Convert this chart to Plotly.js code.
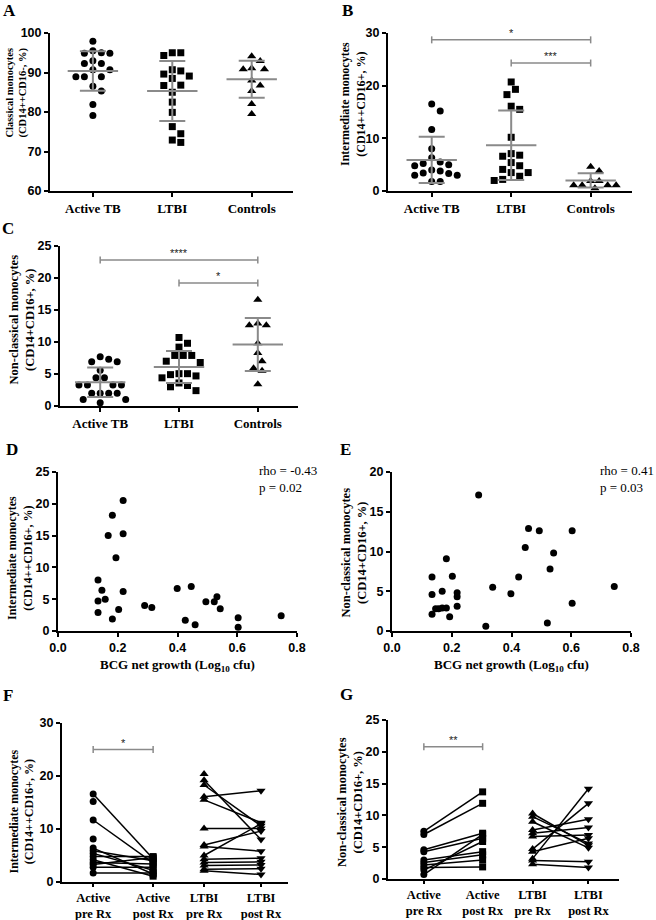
<!DOCTYPE html>
<html><head><meta charset="utf-8">
<script src="https://cdn.plot.ly/plotly-3.0.1.min.js"></script>
<style>html,body{margin:0;padding:0;background:#fff;}#chart{width:656px;height:920px;}</style>
</head><body><div id="chart"></div>
<script>
// ================= DATA =================
const groupLabels = ['Active TB', 'LTBI', 'Controls'];
const rxLabels = ['Active<br>pre Rx', 'Active<br>post Rx', 'LTBI<br>pre Rx', 'LTBI<br>post Rx'];

// Panel A: classical monocytes (CD14++CD16-, %)
const aActive   = [97.9, 95.5, 94.9, 94.9, 95.0, 93.0, 92.3, 92.3, 90.7, 90.7, 88.9, 88.9, 88.9, 86.5, 85.3, 81.9, 79.1];
const aLTBI     = [95.0, 94.3, 95.0, 90.4, 90.7, 89.1, 88.5, 89.6, 86.8, 86.7, 85.0, 82.5, 79.9, 76.3, 74.5, 72.9, 72.3];
const aControls = [94.1, 92.9, 91.1, 90.8, 90.8, 88.0, 86.7, 85.3, 82.0, 79.5];
const aMean = [90.4, 85.3, 88.3];
const aSD   = [5.0, 7.6, 4.7];

// Panel B: intermediate monocytes (CD14++CD16+, %)
const bActive   = [16.5, 15.2, 11.7, 8.0, 6.3, 4.8, 5.5, 5.2, 5.0, 3.3, 3.8, 3.0, 3.4, 4.0, 3.0, 1.8, 1.8];
const bLTBI     = [20.7, 19.3, 18.3, 15.5, 16.1, 10.2, 7.1, 6.8, 6.6, 4.8, 5.4, 4.1, 3.5, 3.5, 2.8, 2.0, 2.2];
const bControls = [4.6, 3.8, 1.9, 1.1, 1.1, 1.1, 1.1, 1.9, 0.5];
const bMean = [5.9, 8.7, 2.0];
const bSD   = [4.4, 6.6, 1.35];
const bSigFrom = [0, 1], bSigTo = [2, 2], bSigY = [28.7, 24.3], bSigText = ['*', '***'];

// Panel C: non-classical monocytes (CD14+CD16+, %)
const cActive   = [7.7, 6.9, 6.9, 7.3, 5.6, 4.4, 4.4, 3.3, 3.3, 3.3, 3.3, 2.0, 2.0, 2.0, 2.0, 1.0, 1.0, 0.5];
const cLTBI     = [10.7, 9.8, 9.2, 7.9, 7.9, 7.9, 6.8, 7.0, 5.05, 4.7, 4.4, 4.9, 5.05, 3.6, 3.2, 3.0, 2.4];
const cControls = [16.6, 12.6, 12.6, 12.9, 9.8, 8.3, 7.0, 5.9, 5.5, 3.4];
const cMean = [3.7, 6.1, 9.6];
const cSD   = [2.3, 2.5, 4.15];
const cSigFrom = [0, 1], cSigTo = [2, 2], cSigY = [22.8, 19.2], cSigText = ['****', '*'];

// Panel D: BCG net growth vs intermediate monocytes
const dGrowth = [0.218, 0.182, 0.168, 0.218, 0.194, 0.134, 0.147, 0.218, 0.134, 0.158, 0.134, 0.203, 0.182, 0.290, 0.314, 0.399, 0.446, 0.426, 0.459, 0.495, 0.523, 0.532, 0.543, 0.603, 0.603, 0.747];
const dInter  = [20.5, 18.2, 15.0, 15.3, 11.5, 8.0, 6.4, 6.2, 4.7, 5.0, 2.9, 3.4, 1.9, 4.0, 3.7, 6.7, 7.0, 1.7, 1.0, 4.6, 4.6, 5.4, 3.5, 2.1, 0.6, 2.4];
const dStats = 'rho = -0.43<br>p = 0.02';

// Panel E: BCG net growth vs non-classical monocytes
const eGrowth = [0.290, 0.457, 0.493, 0.603, 0.446, 0.541, 0.182, 0.134, 0.202, 0.424, 0.529, 0.168, 0.134, 0.218, 0.218, 0.337, 0.398, 0.744, 0.603, 0.146, 0.156, 0.168, 0.182, 0.218, 0.134, 0.193, 0.314, 0.520];
const eNonClass = [17.1, 12.9, 12.6, 12.6, 10.5, 9.8, 9.1, 6.8, 6.9, 6.8, 7.8, 5.0, 4.6, 4.8, 4.3, 5.5, 4.7, 5.6, 3.5, 2.8, 2.8, 2.9, 2.9, 3.1, 2.1, 1.8, 0.6, 1.0];
const eStats = 'rho = 0.41<br>p = 0.03';

// Panel F: intermediate monocytes before / after treatment (null = unpaired)
const fActivePre  = [16.6, 15.2, 11.7, 8.1, 6.4, 5.9, 5.4, 4.8, 4.2, 3.7, 3.3, 2.8, 1.7];
const fActivePost = [4.4, null, 3.6, null, 1.5, 4.0, 2.2, 4.8, 1.1, 3.4, 4.6, 2.8, 1.7];
const fLTBIPre    = [20.4, 19.2, 18.3, 16.1, 15.5, 10.1, 7.0, 6.7, 5.0, 4.3, 3.7, 3.1, 2.4, 2.1];
const fLTBIPost   = [null, 8.0, 10.6, 17.2, 11.2, 10.1, 9.6, 5.8, 11.0, 4.5, 3.8, 3.2, 2.5, 1.4];
const fSigFrom = [0], fSigTo = [1], fSigY = [25.0], fSigText = ['*'];

// Panel G: non-classical monocytes before / after treatment
const gActivePre  = [7.5, 7.0, 4.6, 4.3, 3.0, 2.6, 2.2, 1.8, 1.4, 0.7];
const gActivePost = [13.7, 11.9, 7.2, 6.4, 4.3, 3.8, 3.0, 1.9, 5.9, 7.0];
const gLTBIPre    = [10.3, 9.8, 9.0, 7.7, 7.2, 6.7, 4.7, 4.3, 3.2, 2.9, 2.3];
const gLTBIPost   = [5.3, 5.6, 4.9, 9.4, 8.1, 6.9, 11.9, 6.4, 14.2, 2.7, 1.8];
const gSigFrom = [0], gSigTo = [1], gSigY = [20.8], gSigText = ['**'];

// ================= LAYOUT / STYLE =================
const W = 656, H = 920;
const GRAY = '#8a8a8a';
const SERIF = 'Liberation Serif, Times New Roman, serif';
const SANS = 'Liberation Sans, Arial, sans-serif';

// plot-area boxes in pixels
const geo = {
  A: {id: 1, l: 50,  r: 293, t: 33,  b: 191, xr: [-0.54, 2.52], yr: [60, 100], dy: 10},
  B: {id: 2, l: 388, r: 632, t: 33,  b: 191, xr: [-0.55, 2.52], yr: [0, 30],   dy: 10},
  C: {id: 3, l: 60,  r: 298, t: 246, b: 406, xr: [-0.51, 2.51], yr: [0, 25],   dy: 5},
  D: {id: 4, l: 58,  r: 297, t: 472, b: 631, xr: [0, 0.8],      yr: [0, 25],   dy: 5},
  E: {id: 5, l: 392, r: 631, t: 472, b: 631, xr: [0, 0.8],      yr: [0, 20],   dy: 5},
  F: {id: 6, l: 62,  r: 288, t: 723, b: 882, xr: [-0.52, 3.25], yr: [0, 30],   dy: 10},
  G: {id: 7, l: 388, r: 619, t: 720, b: 879, xr: [-0.61, 3.32], yr: [0, 25],   dy: 5}
};
const rxSlots = [0, 1, 1.85, 2.8];

const traces = [];
const shapes = [];
const annotations = [];
const layout = {
  width: W, height: H, margin: {l: 0, r: 0, t: 0, b: 0},
  paper_bgcolor: '#fff', plot_bgcolor: 'rgba(0,0,0,0)', showlegend: false,
  font: {family: SANS, color: '#000'}, hovermode: false
};

const axisBase = {
  showline: true, linecolor: '#000', linewidth: 2,
  ticks: 'outside', ticklen: 4, tickwidth: 2, tickcolor: '#000',
  showgrid: false, zeroline: false, fixedrange: true
};
const numFont = {family: SANS, size: 12.5, weight: 700, color: '#000'};
const catFont = {family: SERIF, size: 13, weight: 700, color: '#000'};
const rxFont = {family: SERIF, size: 12.5, weight: 700, color: '#000'};

function ax(k) { const g = geo[k]; return {x: 'x' + g.id, y: 'y' + g.id, xk: 'xaxis' + g.id, yk: 'yaxis' + g.id}; }

Object.keys(geo).forEach(k => {
  const g = geo[k], a = ax(k);
  layout[a.xk] = Object.assign({}, axisBase, {
    domain: [g.l / W, g.r / W], range: g.xr, anchor: a.y, tickfont: numFont
  });
  layout[a.yk] = Object.assign({}, axisBase, {
    domain: [1 - g.b / H, 1 - g.t / H], range: g.yr, anchor: a.x,
    tickmode: 'linear', tick0: g.yr[0], dtick: g.dy, tickfont: numFont
  });
});
['A', 'B', 'C'].forEach(k => {
  Object.assign(layout[ax(k).xk], {tickmode: 'array', tickvals: [0, 1, 2], ticktext: groupLabels, tickfont: catFont});
});
['F', 'G'].forEach(k => {
  Object.assign(layout[ax(k).xk], {tickmode: 'array', tickvals: rxSlots, ticktext: rxLabels, tickfont: rxFont, ticklen: 3});
});
['D', 'E'].forEach(k => {
  Object.assign(layout[ax(k).xk], {tickmode: 'linear', tick0: 0, dtick: 0.2, tickformat: '.1f'});
});

// horizontal spreading of points within a column (beeswarm, pixel based)
function swarm(vals, kY, kX, d) {
  const order = vals.map((v, i) => i).sort((a, b) => vals[b] - vals[a]);
  const placed = [], offs = new Array(vals.length).fill(0), step = d / 2;
  order.forEach(i => {
    for (let n = 0; n < 60; n++) {
      const m = Math.ceil(n / 2), kk = n === 0 ? 0 : (n % 2 ? m : -m);
      const ox = kk * step;
      const ok = placed.every(p => { const dx = ox - p.x, dy = (vals[i] - p.v) * kY; return dx * dx + dy * dy >= d * d; });
      if (ok) { offs[i] = ox / kX; placed.push({x: ox, v: vals[i]}); break; }
    }
  });
  return offs;
}

const symbols = ['circle', 'square', 'triangle-up'];
const symSize = {'circle': 7, 'square': 7, 'triangle-up': 8, 'triangle-down': 8};

function dotPanel(k, groups, means, sds) {
  const g = geo[k], a = ax(k);
  const kY = (g.b - g.t) / (g.yr[1] - g.yr[0]);
  const kX = (g.r - g.l) / (g.xr[1] - g.xr[0]);
  groups.forEach((vals, i) => {
    const offs = swarm(vals, kY, kX, 8.5);
    traces.push({
      type: 'scatter', mode: 'markers', xaxis: a.x, yaxis: a.y, cliponaxis: false,
      x: vals.map((v, j) => i + offs[j]), y: vals,
      marker: {symbol: symbols[i], size: symSize[symbols[i]], color: '#000'}
    });
  });
  traces.push({
    type: 'scatter', mode: 'markers', xaxis: a.x, yaxis: a.y, cliponaxis: false,
    x: means.map((m, i) => i), y: means,
    marker: {symbol: 'line-ew', size: 36, color: GRAY, line: {width: 2, color: GRAY}},
    error_y: {type: 'data', array: sds, visible: true, color: GRAY, thickness: 2, width: 13}
  });
}

function scatterPanel(k, xs, ys, stats) {
  const g = geo[k], a = ax(k);
  traces.push({
    type: 'scatter', mode: 'markers', xaxis: a.x, yaxis: a.y, cliponaxis: false,
    x: xs, y: ys, marker: {symbol: 'circle', size: 7, color: '#000'}
  });
  annotations.push({
    xref: 'paper', yref: 'paper', x: (k === 'D' ? 257 : 598) / W, y: 1 - 479 / H,
    xanchor: 'left', yanchor: 'middle', align: 'left', showarrow: false,
    text: stats, font: {family: SERIF, size: 13, color: '#000'}
  });
  annotations.push({
    xref: 'paper', yref: 'paper', x: ((g.l + g.r) / 2 + 0) / W, y: 1 - 665 / H,
    xanchor: 'center', yanchor: 'middle', showarrow: false,
    text: 'BCG net growth (Log<sub>10</sub> cfu)', font: {family: SERIF, size: 13, weight: 700, color: '#000'}
  });
}

function pairedPanel(k, pre1, post1, pre2, post2) {
  const a = ax(k);
  const sets = [[pre1, post1, 0, 1, 'circle', 'square'], [pre2, post2, 2, 3, 'triangle-up', 'triangle-down']];
  sets.forEach(([pre, post, s0, s1, sym0, sym1]) => {
    const lx = [], ly = [];
    pre.forEach((v, i) => {
      if (v != null && post[i] != null) { lx.push(rxSlots[s0], rxSlots[s1], null); ly.push(v, post[i], null); }
    });
    traces.push({type: 'scatter', mode: 'lines', xaxis: a.x, yaxis: a.y, cliponaxis: false,
      x: lx, y: ly, connectgaps: false, line: {color: '#000', width: 1.5}});
    const p0 = pre.filter(v => v != null), p1 = post.filter(v => v != null);
    traces.push({type: 'scatter', mode: 'markers', xaxis: a.x, yaxis: a.y, cliponaxis: false,
      x: p0.map(() => rxSlots[s0]), y: p0, marker: {symbol: sym0, size: symSize[sym0], color: '#000'}});
    traces.push({type: 'scatter', mode: 'markers', xaxis: a.x, yaxis: a.y, cliponaxis: false,
      x: p1.map(() => rxSlots[s1]), y: p1, marker: {symbol: sym1, size: symSize[sym1], color: '#000'}});
  });
}

function brackets(k, from, to, ys, labels, slotMap) {
  const a = ax(k);
  from.forEach((f, i) => {
    const x0 = slotMap ? slotMap[f] : f, x1 = slotMap ? slotMap[to[i]] : to[i];
    const ln = {color: GRAY, width: 1.5};
    shapes.push({type: 'line', xref: a.x, yref: a.y, x0: x0, x1: x1, y0: ys[i], y1: ys[i], line: ln});
    [x0, x1].forEach(xx => shapes.push({type: 'line', xref: a.x, yref: a.y, ysizemode: 'pixel', yanchor: ys[i],
      x0: xx, x1: xx, y0: -3.5, y1: 3.5, line: ln}));
    annotations.push({xref: a.x, yref: a.y, x: (x0 + x1) / 2, y: ys[i], yanchor: 'bottom', yshift: -1,
      showarrow: false, text: labels[i], font: {family: SANS, size: 11, color: '#222'}});
  });
}

dotPanel('A', [aActive, aLTBI, aControls], aMean, aSD);
dotPanel('B', [bActive, bLTBI, bControls], bMean, bSD);
dotPanel('C', [cActive, cLTBI, cControls], cMean, cSD);
scatterPanel('D', dGrowth, dInter, dStats);
scatterPanel('E', eGrowth, eNonClass, eStats);
pairedPanel('F', fActivePre, fActivePost, fLTBIPre, fLTBIPost);
pairedPanel('G', gActivePre, gActivePost, gLTBIPre, gLTBIPost);
brackets('B', bSigFrom, bSigTo, bSigY, bSigText);
brackets('C', cSigFrom, cSigTo, cSigY, cSigText);
brackets('F', fSigFrom, fSigTo, fSigY, fSigText, rxSlots);
brackets('G', gSigFrom, gSigTo, gSigY, gSigText, rxSlots);

// panel letters
const letters = [['A', 9, 10], ['B', 347, 10], ['C', 8, 228], ['D', 12, 449], ['E', 345, 449], ['F', 8, 695], ['G', 346, 694]];
letters.forEach(([t, x, y]) => annotations.push({xref: 'paper', yref: 'paper', x: x / W, y: 1 - y / H,
  xanchor: 'center', yanchor: 'middle', showarrow: false, text: t,
  font: {family: SERIF, size: 17, weight: 700, color: '#000'}}));

// y-axis titles
const yTitles = [
  ['Classical monocytes<br>(CD14++CD16-, %)', 16.5, 93, 10.5],
  ['Intermediate monocytes<br>(CD14++CD16+, %)', 353, 104, 12],
  ['Non-classical monocytes<br>(CD14+CD16+, %)', 21.5, 320, 12.5],
  ['Intermediate monocytes<br>(CD14++CD16+, %)', 20, 558, 12],
  ['Non-classical monocytes<br>(CD14+CD16+, %)', 353.5, 552, 12.5],
  ['Intermediate monocytes<br>(CD14++CD16+, %)', 21.5, 812, 12],
  ['Non-classical monocytes<br>(CD14+CD16+, %)', 350, 802, 12.5]
];
yTitles.forEach(([t, x, y, s]) => annotations.push({xref: 'paper', yref: 'paper', x: x / W, y: 1 - y / H,
  xanchor: 'center', yanchor: 'middle', textangle: -90, showarrow: false, text: t,
  font: {family: SERIF, size: s, weight: 700, color: '#000'}}));

layout.shapes = shapes;
layout.annotations = annotations;
Plotly.newPlot('chart', traces, layout, {staticPlot: true, displayModeBar: false});
</script></body></html>
